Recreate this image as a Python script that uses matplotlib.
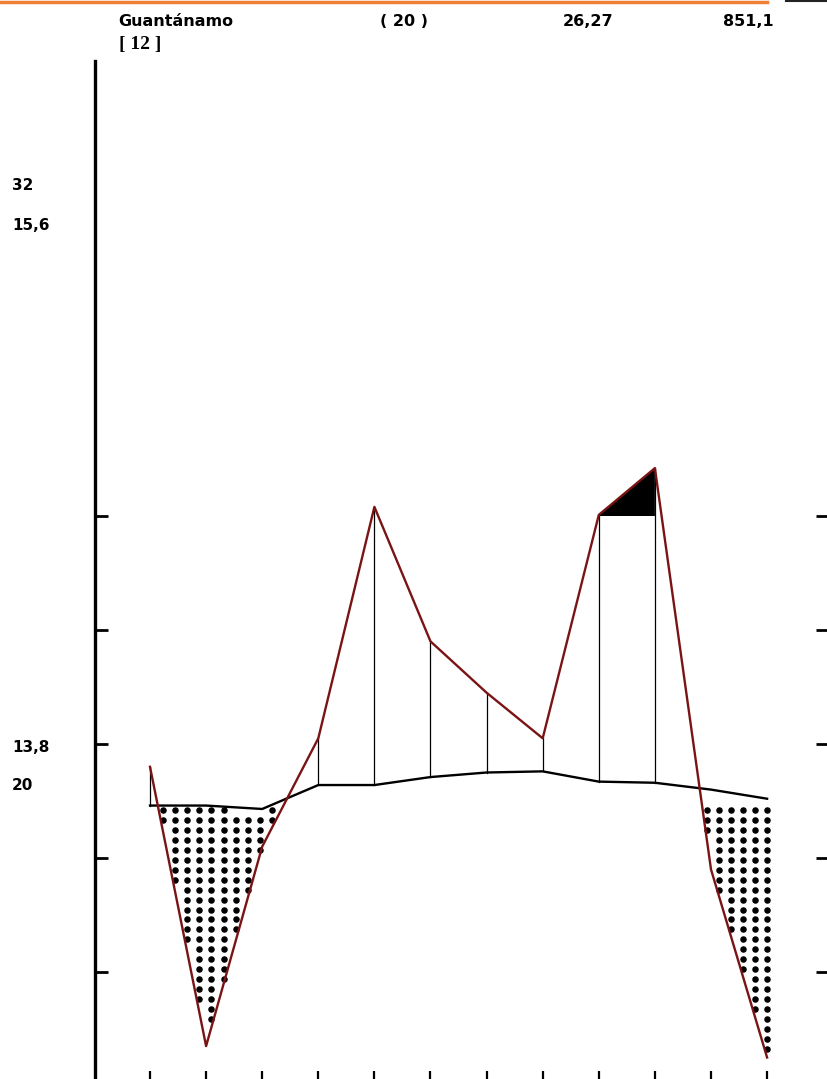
import numpy as np
import matplotlib.pyplot as plt
from matplotlib.lines import Line2D

# Guantanamo climate diagram (Walter-Lieth style)
months = np.arange(12)
temp = [24.6, 24.6, 24.3, 26.4, 26.4, 27.1, 27.5, 27.6, 26.7, 26.6, 26.0, 25.2]  # deg C
precip = [56, 7, 42, 61, 116, 78, 69, 61, 102, 184, 38, 5]  # mm

station = "Guantánamo"
altitude = "( 20 )"
mean_temp = "26,27"
total_precip = "851,1"
years = "[ 12 ]"
side_labels = ["32", "15,6", "13,8", "20"]

temp = np.array(temp)
precip = np.array(precip, dtype=float)
# 10 C = 20 mm, above 100 mm the scale is reduced 1:10
pplot = np.where(precip <= 100, precip / 2, 50 + (precip - 100) / 20)

W, H = 828, 1079
fig = plt.figure(figsize=(W / 100, H / 100), dpi=100)
fig.patch.set_facecolor("white")

# axes placed in pixel terms: left axis at x=95, top at y=61, bottom = figure bottom
ax = fig.add_axes([95 / W, 0, 1 - 95 / W, (H - 61) / H])
px_month = 56.1
px_unit = 11.4
ax.set_xlim((95 - 150) / px_month, (828 - 150) / px_month)
ax.set_ylim((1086 - 1079) / px_unit, (1086 - 61) / px_unit)

brown = "#7a1414"
fnt = ["Liberation Sans Narrow", "DejaVu Sans"]

# dotted dry period (precip below temp)
gx = 11 - 0.2153 * np.arange(60)
gy = 24.2 - 0.872 * np.arange(30)
GX, GY = np.meshgrid(gx, gy)
GX, GY = GX.ravel(), GY.ravel()
inside = (GX >= 0) & (GY < np.interp(GX, months, temp) - 0.25) & (GY > np.interp(GX, months, pplot) + 0.4)
ax.scatter(GX[inside], GY[inside], s=22, color="black", linewidths=0, zorder=2)

# humid period: vertical lines at the months where precip is above temp
for m in months:
    if pplot[m] > temp[m]:
        ax.plot([m, m], [temp[m], pplot[m]], color="black", linewidth=0.9, zorder=2)

# very humid (> 100 mm) in black
ax.fill_between(months, 50, pplot, where=pplot > 50, interpolate=False,
                color="black", linewidth=0, zorder=3)

ax.plot(months, temp, color="black", linewidth=1.7, zorder=4)
ax.plot(months, pplot, color=brown, linewidth=1.7, zorder=5)

for s in ["top", "right", "bottom"]:
    ax.spines[s].set_visible(False)
ax.spines["left"].set_linewidth(2.4)

ax.set_yticks([10, 20, 30, 40, 50])
ax.set_xticks(months)
ax.tick_params(axis="y", left=True, right=True, direction="in", length=9,
               width=2.0, labelleft=False, labelright=False)
ax.tick_params(axis="x", bottom=True, direction="in", length=5.5, width=1.6,
               labelbottom=False)

# header texts
hy = 1 - 22 / H
fig.text(118 / W, hy, station, fontsize=11.5, fontweight="bold", family=fnt, va="center")
fig.text(404 / W, hy, altitude, fontsize=11.5, fontweight="bold", family=fnt, va="center", ha="center")
fig.text(588 / W, hy, mean_temp, fontsize=11.5, fontweight="bold", family=fnt, va="center", ha="center")
fig.text(748 / W, hy, total_precip, fontsize=11.5, fontweight="bold", family=fnt, va="center", ha="center")
fig.text(119 / W, 1 - 45 / H, years, fontsize=14, fontweight="bold",
         family=["Liberation Serif", "DejaVu Serif"], va="center")

for lab, py in zip(side_labels, [185, 225, 748, 786]):
    fig.text(12 / W, 1 - py / H, lab, fontsize=11, fontweight="bold", family=fnt, va="center")

# thin bars along the top edge
fig.add_artist(Line2D([0, 767 / W], [1 - 1.5 / H, 1 - 1.5 / H], color="#ef7f35", linewidth=2.5))
fig.add_artist(Line2D([786 / W, 1], [1 - 1 / H, 1 - 1 / H], color="#222222", linewidth=1.5))

fig.savefig("out.png", dpi=100)
